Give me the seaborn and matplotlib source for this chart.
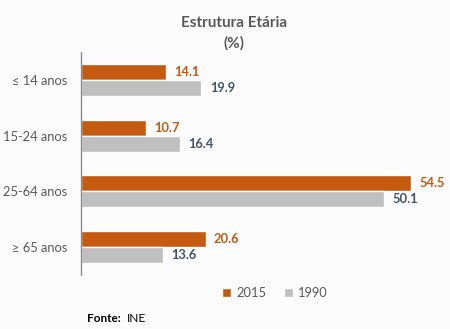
import matplotlib
matplotlib.use("Agg")
import matplotlib.pyplot as plt
import seaborn as sns
import pandas as pd

categories = ["≤ 14 anos", "15-24 anos", "25-64 anos", "≥ 65 anos"]
series_names = ["2015", "1990"]
values_2015 = [14.1, 10.7, 54.5, 20.6]
values_1990 = [19.9, 16.4, 50.1, 13.6]

df = pd.DataFrame({
    "cat": categories * 2,
    "year": [series_names[0]] * 4 + [series_names[1]] * 4,
    "val": values_2015 + values_1990,
})

sns.set_theme(style="white")
plt.rcParams["font.family"] = ["Lato", "DejaVu Sans"]

BG = "#FCFCFC"
ORANGE = "#C55A11"
GRAY = "#BFBFBF"
TXT = "#595959"

fig = plt.figure(figsize=(4.5, 3.29), dpi=100, facecolor=BG)
ax = fig.add_axes([81/450, 1-275/329, (444-81)/450, (275-52)/329])
ax.set_facecolor(BG)

sns.barplot(data=df, y="cat", x="val", hue="year", orient="h",
            palette=[ORANGE, GRAY], width=0.575, ax=ax, legend=False,
            saturation=1)

ax.set_xlim(0, 60)
ax.set_ylim(3.5, -0.5)
ax.set_xlabel("")
ax.set_ylabel("")
ax.set_xticks([])
for s in ["top", "right", "bottom"]:
    ax.spines[s].set_visible(False)
ax.spines["left"].set_color("#8C8C8C")
ax.spines["left"].set_linewidth(1.0)
ax.tick_params(axis="y", which="major", length=0, pad=10, labelsize=9.3, labelcolor=TXT)
ax.set_yticks(range(4))
ax.set_yticklabels(categories)
ax.set_yticks([0.5, 1.5, 2.5], minor=True)
ax.tick_params(axis="y", which="minor", length=4, color="#8C8C8C", width=1)

for cont, col in zip(ax.containers, [ORANGE, "#44546A"]):
    ax.bar_label(cont, fmt="%.1f", padding=6, color=col, fontsize=9.3, fontweight="bold")

fig.text(234/450, 1-23/329, "Estrutura Etária", ha="center", va="center",
         fontsize=11, fontweight="bold", color=TXT)
fig.text(234/450, 1-43/329, "(%)", ha="center", va="center",
         fontsize=11, fontweight="bold", color=TXT)

# legend
from matplotlib.patches import Patch
handles = [Patch(facecolor=ORANGE), Patch(facecolor=GRAY)]
fig.legend(handles, series_names, loc="center", bbox_to_anchor=(275/450, 1-293/329),
           ncol=2, frameon=False, fontsize=9.3, handlelength=0.7, handleheight=0.7,
           handletextpad=0.4, columnspacing=1.4, labelcolor=TXT)

fig.text(87/450, 1-318/329, "Fonte:", ha="left", va="center", fontsize=8.5,
         fontweight="bold", color="#000000")
fig.text(127/450, 1-318/329, "INE", ha="left", va="center", fontsize=8.5, color="#000000")

fig.savefig("out.png", dpi=100, facecolor=BG)
